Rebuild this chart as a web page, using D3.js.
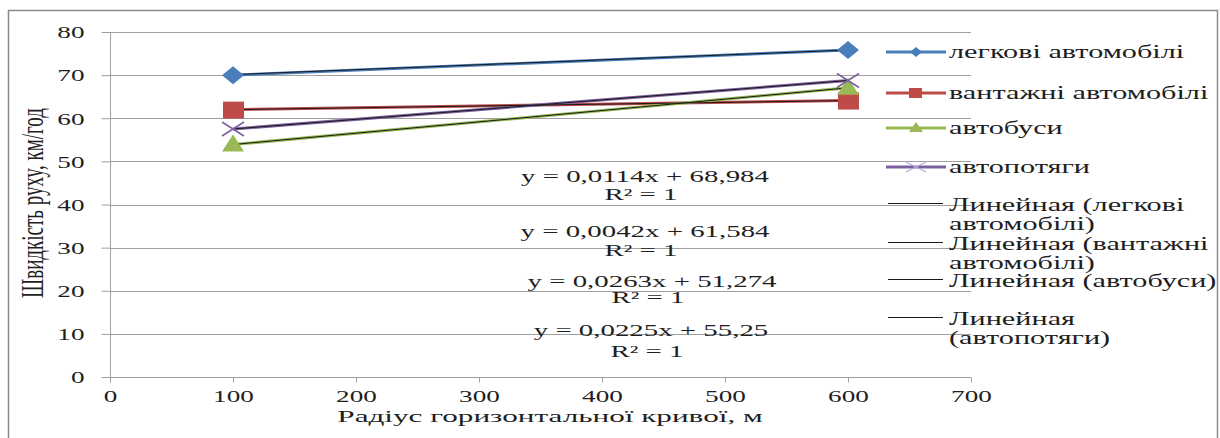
<!DOCTYPE html>
<html><head><meta charset="utf-8">
<script src="https://cdn.jsdelivr.net/npm/d3@7"></script>
<style>body{margin:0;background:#fff}svg{display:block}</style>
</head><body><svg id="c" width="1220" height="438"></svg>
<script>
const xVals = [100, 600];
const seriesNames = ["легкові автомобілі","вантажні автомобілі","автобуси","автопотяги"];
const legkovi = [70, 75.8];
const vantazhni = [62, 64.1];
const avtobusy = [53.9, 67.05];
const avtopotiagy = [57.5, 68.75];
const slopes = [0.0114, 0.0042, 0.0263, 0.0225];
const intercepts = [68.984, 61.584, 51.274, 55.25];
const equations = ["y = 0,0114x + 68,984","y = 0,0042x + 61,584","y = 0,0263x + 51,274","y = 0,0225x + 55,25"];
const trendNames = [["Линейная (легкові","автомобілі)"],["Линейная (вантажні","автомобілі)"],["Линейная (автобуси)"],["Линейная","(автопотяги)"]];
const xTicks = [0,100,200,300,400,500,600,700];
const yTicks = [0,10,20,30,40,50,60,70,80];

const FONT = "'Liberation Serif','Times New Roman','DejaVu Serif',serif";
const colors = ["#4a7ebb","#be4b48","#98b954","#7d60a0"];
const symbols = ["diamond","square","triangle","cross"];
const allSeries = [legkovi, vantazhni, avtobusy, avtopotiagy];

const svg = d3.select("#c");
svg.append("rect").attr("x",8.5).attr("y",10.5).attr("width",1209).attr("height",440).attr("fill","none").attr("stroke","#8a8a8a").attr("stroke-width",1.5);

const x = d3.scaleLinear().domain([0,700]).range([110,971]);
const y = d3.scaleLinear().domain([0,80]).range([377,32]);

function txt(parent, str, tx, ty, size, sx, anchor){
  return parent.append("text").attr("transform",`translate(${tx},${ty}) scale(${sx},1)`)
    .attr("text-anchor",anchor||"start").style("font-family",FONT).attr("font-size",size).attr("fill","#1e1e1e").text(str);
}

// gridlines
svg.append("g").selectAll("line").data(yTicks.filter(d=>d>0)).join("line")
  .attr("x1",110).attr("x2",971).attr("y1",d=>Math.round(y(d))+0.5).attr("y2",d=>Math.round(y(d))+0.5)
  .attr("stroke","#a0a0a0").attr("stroke-width",1);

// axes
const TS = 1.6;
const yAx = svg.append("g").attr("transform","translate(110.5,0)")
  .call(d3.axisLeft(y).tickValues(yTicks).tickSize(9).tickPadding(10));
yAx.select(".domain").attr("stroke","#a0a0a0").attr("d","M0,"+y(80)+"V"+y(0));
yAx.selectAll(".tick line").attr("stroke","#a0a0a0");
yAx.selectAll(".tick text").attr("font-size",17).style("font-family",FONT).attr("fill","#1e1e1e")
  .attr("x",-26/TS).attr("dy","0.34em").attr("transform",`scale(${TS},1)`);

const xAx = svg.append("g").attr("transform","translate(0,"+(Math.round(y(0))+0.5)+")")
  .call(d3.axisBottom(x).tickValues(xTicks).tickSize(5).tickPadding(10));
xAx.select(".domain").attr("stroke","#a0a0a0").attr("d","M110,0H971");
xAx.selectAll(".tick line").attr("stroke","#a0a0a0");
xAx.selectAll(".tick text").attr("font-size",17).style("font-family",FONT).attr("fill","#1e1e1e")
  .attr("y",25).attr("dy",0).attr("transform",`scale(${TS},1)`);

// axis titles
svg.append("text").attr("transform","translate(43,203) scale(1.85,1) rotate(-90)").attr("text-anchor","middle")
  .style("font-family",FONT).attr("font-size",17).attr("fill","#1e1e1e")
  .attr("textLength",190).attr("lengthAdjust","spacingAndGlyphs").text("Швидкість руху, км/год");
txt(svg,"Радіус горизонтальної кривої, м",550,422,16,1.95,"middle");

// series
const line = d3.line().x(d=>x(d[0])).y(d=>y(d[1]));
allSeries.forEach((vals,i)=>{
  const pts = xVals.map((xv,j)=>[xv,vals[j]]);
  svg.append("path").attr("d",line(pts)).attr("fill","none").attr("stroke",colors[i]).attr("stroke-width",3);
});
// trendlines
allSeries.forEach((vals,i)=>{
  const pts = xVals.map(xv=>[xv, slopes[i]*xv+intercepts[i]]);
  svg.append("path").attr("d",line(pts)).attr("fill","none").attr("stroke","#1a1a1a").attr("stroke-width",1);
});

function marker(g,type,cx,cy,color){
  if(type==="diamond"){
    g.append("path").attr("d",`M${cx},${cy-9}L${cx+11},${cy}L${cx},${cy+9}L${cx-11},${cy}Z`).attr("fill",color);
  } else if(type==="square"){
    g.append("rect").attr("x",cx-10).attr("y",cy-8).attr("width",21).attr("height",17).attr("fill",color);
  } else if(type==="triangle"){
    g.append("path").attr("d",`M${cx},${cy-10}L${cx+11},${cy+7}L${cx-11},${cy+7}Z`).attr("fill",color);
  } else {
    g.append("path").attr("d",`M${cx-11},${cy-7}L${cx+11},${cy+7}M${cx-11},${cy+7}L${cx+11},${cy-7}`).attr("stroke",color).attr("stroke-width",1.6).attr("fill","none");
  }
}
allSeries.forEach((vals,i)=>{
  const g = svg.append("g");
  xVals.forEach((xv,j)=>marker(g,symbols[i],x(xv),y(vals[j]),colors[i]));
});

// equations
const eqBase = [182,237,287,336];
const r2Base = [200,256,303,357];
const eqX = [645,645,652,651];
const r2X = [641,641,648,647];
equations.forEach((e,i)=>{
  txt(svg,e,eqX[i],eqBase[i],16.5,1.75,"middle");
  txt(svg,"R² = 1",r2X[i],r2Base[i],16.5,1.75,"middle");
});

// legend
const lg = svg.append("g");
const legY = [52,93,128,167];
const LS = 1.68;
seriesNames.forEach((n,i)=>{
  const ly = legY[i];
  lg.append("line").attr("x1",886).attr("x2",946).attr("y1",ly).attr("y2",ly).attr("stroke",colors[i]).attr("stroke-width",3);
  if(symbols[i]==="diamond") lg.append("path").attr("d",`M916,${ly-5}L922,${ly}L916,${ly+5}L910,${ly}Z`).attr("fill",colors[i]);
  else if(symbols[i]==="square") lg.append("rect").attr("x",909).attr("y",ly-5).attr("width",13).attr("height",10).attr("fill",colors[i]);
  else if(symbols[i]==="triangle") lg.append("path").attr("d",`M916,${ly-6}L923,${ly+4}L909,${ly+4}Z`).attr("fill",colors[i]);
  else lg.append("path").attr("d",`M906,${ly-5}L926,${ly+5}M906,${ly+5}L926,${ly-5}`).attr("stroke","#b9a6d6").attr("stroke-width",1.2);
  txt(lg,n,949,ly+6,18,LS);
});
const trY = [203,242,279,317];
trendNames.forEach((lines,i)=>{
  lg.append("line").attr("x1",888).attr("x2",943).attr("y1",trY[i]+0.5).attr("y2",trY[i]+0.5).attr("stroke","#1a1a1a").attr("stroke-width",1.2);
  lines.forEach((t,k)=>{
    txt(lg,t,949,trY[i]+8+k*19,18,LS);
  });
});
</script></body></html>
